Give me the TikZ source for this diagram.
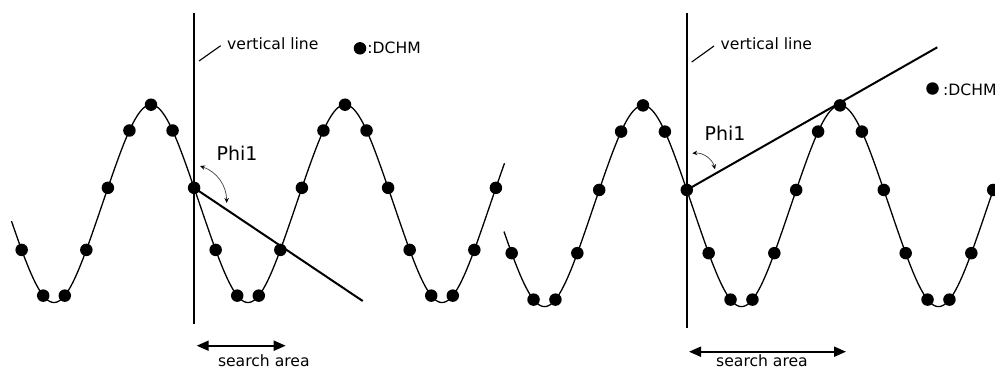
\documentclass[tikz,border=0pt]{standalone}
\usepackage{fontspec}
\setmainfont{DejaVu Sans}
\usetikzlibrary{arrows.meta}
\begin{document}
\begin{tikzpicture}[x=1pt,y=-1pt,
  dot/.style={circle,fill=black,inner sep=0pt,minimum size=12.5pt},
  wave/.style={line width=1.3pt},
  bar/.style={line width=2pt},
  leader/.style={line width=1.1pt},
  lbl/.style={inner sep=0pt,font=\fontsize{15.6}{18}\selectfont},
  philbl/.style={inner sep=0pt,font=\fontsize{19}{22}\selectfont},
  anglearrow/.style={draw=black!75,line width=0.7pt,{Stealth[length=5pt,width=4.5pt,black]}-{Stealth[length=5pt,width=4.5pt,black]}},
  span/.style={line width=2pt,{Triangle[length=12pt,width=10pt]}-{Triangle[length=12pt,width=10pt]}}
]
\useasboundingbox (0,0) rectangle (995,369);

% ---------- left panel ----------
\draw[wave] plot[domain=11.5:504.5,samples=400]
  (\x,{203.6-96.8*cos((\x-151)/194*360)-2.1*cos((\x-151)/194*1080)});
\foreach \k in {-6,...,16}{
  \pgfmathsetmacro{\px}{151+\k*194/9}
  \pgfmathsetmacro{\py}{203.6-96.8*cos((\px-151)/194*360)-2.1*cos((\px-151)/194*1080)}
  \coordinate (L\k) at (\px,\py);
}
\coordinate (Ltop) at (194.1,13);
\coordinate (Lbot) at (194.1,323.5);
\draw[bar] (Ltop) -- (Lbot);
\coordinate (Lend) at (362.7,301);
\draw[bar] (L2) -- (Lend);
\foreach \k in {-6,...,16}{ \node[dot] (Ld\k) at (L\k) {}; }

\coordinate (Lv1) at (199,61);
\coordinate (Lv2) at (220.7,45.7);
\draw[leader] (Lv1) -- (Lv2);
\node[lbl,anchor=base west] (Lvl) at (227,49.5) {vertical line};
\node[dot] (Lkey) at (360,48.3) {};
\node[lbl,anchor=base west] (Lkeytxt) at (367.2,54) {:DCHM};

\node[philbl,anchor=base west] (Lphi) at (216.5,160) {Phi1};
\coordinate (La1) at (200,166);
\coordinate (La2) at (226.7,203);
\draw[anglearrow] (La1) to[bend left=35] (La2);

\coordinate (Ls1) at (196.7,345.7);
\coordinate (Ls2) at (285.7,345.7);
\draw[span] (Ls1) -- (Ls2);
\node[lbl,anchor=base] (Lsa) at (263.8,366.7) {search area};

% ---------- right panel ----------
\draw[wave] plot[domain=504:995,samples=400]
  (\x,{206-98.5*cos((\x-643)/197*360)-2.1*cos((\x-643)/197*1080)});
\foreach \k in {-6,...,16}{
  \pgfmathsetmacro{\px}{643+\k*197/9}
  \pgfmathsetmacro{\py}{206-98.5*cos((\px-643)/197*360)-2.1*cos((\px-643)/197*1080)}
  \coordinate (R\k) at (\px,\py);
}
\coordinate (Rtop) at (686.8,13);
\coordinate (Rbot) at (686.8,328.3);
\draw[bar] (Rtop) -- (Rbot);
\coordinate (Rend) at (937.3,47.3);
\draw[bar] (R2) -- (Rend);
\foreach \k in {-6,...,16}{ \node[dot] (Rd\k) at (R\k) {}; }

\coordinate (Rv1) at (691.7,62);
\coordinate (Rv2) at (714,46);
\draw[leader] (Rv1) -- (Rv2);
\node[lbl,anchor=base west] (Rvl) at (720.5,49.5) {vertical line};
\node[dot] (Rkey) at (932.5,88.5) {};
\node[lbl,anchor=base west] (Rkeytxt) at (943,95) {:DCHM};

\node[philbl,anchor=base west] (Rphi) at (704.5,140) {Phi1};
\coordinate (Ra1) at (692.3,153.3);
\coordinate (Ra2) at (715,169.3);
\draw[anglearrow] (Ra1) to[bend left=40] (Ra2);

\coordinate (Rs1) at (689,351.7);
\coordinate (Rs2) at (846,351.7);
\draw[span] (Rs1) -- (Rs2);
\node[lbl,anchor=base] (Rsa) at (762,366.7) {search area};
\end{tikzpicture}
\end{document}
